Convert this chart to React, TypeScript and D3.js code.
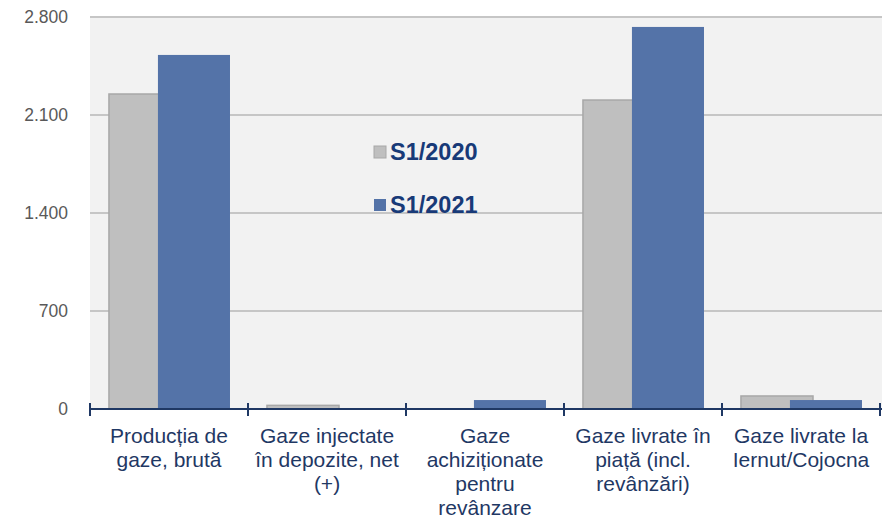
import React from "react";
import * as d3 from "d3";

const categories: string[][] = [
  ["Producția de", "gaze, brută"],
  ["Gaze injectate", "în depozite, net", "(+)"],
  ["Gaze", "achiziționate", "pentru", "revânzare"],
  ["Gaze livrate în", "piață (incl.", "revânzări)"],
  ["Gaze livrate la", "Iernut/Cojocna"],
];
const series2020: number[] = [2250, 26, 0, 2207, 93];
const series2021: number[] = [2529, 0, 64, 2729, 64];
const yTicks: number[] = [0, 700, 1400, 2100, 2800];
const legendLabels: string[] = ["S1/2020", "S1/2021"];

const W = 887;
const H = 518;
const left = 90;
const right = 880;
const top = 17;
const bottom = 409;

export default function App() {
  const x = d3.scaleBand<number>().domain(d3.range(categories.length)).range([left, right]).padding(0);
  const y = d3.scaleLinear().domain([0, 2800]).range([bottom, top]);
  const bw = x.bandwidth();
  const barW = bw * 0.456;
  const off1 = bw * 0.12;
  const off2 = bw * 0.43;
  const fmt = (v: number) => d3.format(",")(v).replace(/,/g, ".");
  const font = "'Liberation Sans', Arial, sans-serif";
  const navy = "#1f3864";
  const gray = "#bfbfbf";
  const blue = "#5473a8";

  return (
    <svg width={W} height={H} style={{ position: "absolute", left: 0, top: 0, fontFamily: font }}>
      <rect x={0} y={0} width={W} height={H} fill="#ffffff" />
      <rect x={left} y={top} width={882 - left} height={bottom - top} fill="#f2f2f2" />
      {yTicks.map((t) => (
        <g key={t}>
          {t > 0 && (
            <line x1={left} x2={882} y1={y(t)} y2={y(t)} stroke="#c6c6c6" strokeWidth={2} />
          )}
          <text x={68} y={y(t)} dy="0.35em" textAnchor="end" fontSize={17.5} fill="#595959">
            {fmt(t)}
          </text>
        </g>
      ))}
      {categories.map((c, i) => {
        const x0 = x(i)!;
        return (
          <g key={i}>
            {series2020[i] > 0 && (
              <rect
                x={x0 + off1}
                y={y(series2020[i])}
                width={barW}
                height={bottom - y(series2020[i])}
                fill={gray}
                stroke="#a8a8a8"
                strokeWidth={1.5}
              />
            )}
            {series2021[i] > 0 && (
              <rect
                x={x0 + off2}
                y={y(series2021[i])}
                width={barW}
                height={bottom - y(series2021[i])}
                fill={blue}
              />
            )}
          </g>
        );
      })}
      <line x1={left} x2={882} y1={bottom} y2={bottom} stroke={navy} strokeWidth={2} />
      {d3.range(categories.length + 1).map((i) => {
        const xx = i < categories.length ? x(i)! : right;
        return <line key={i} x1={xx} x2={xx} y1={bottom - 6} y2={bottom + 7} stroke={navy} strokeWidth={2} />;
      })}
      {categories.map((c, i) => (
        <text key={i} textAnchor="middle" fontSize={21} fill={navy}>
          {c.map((line, j) => (
            <tspan key={j} x={x(i)! + bw / 2} y={443 + j * 24}>
              {line}
            </tspan>
          ))}
        </text>
      ))}
      {legendLabels.map((l, i) => (
        <g key={l}>
          <rect
            x={374}
            y={146 + i * 53}
            width={12}
            height={12}
            fill={i === 0 ? gray : blue}
            stroke={i === 0 ? "#a8a8a8" : "none"}
          />
          <text x={390} y={160 + i * 53} fontSize={23.5} fontWeight="bold" fill="#183a78">
            {l}
          </text>
        </g>
      ))}
    </svg>
  );
}
